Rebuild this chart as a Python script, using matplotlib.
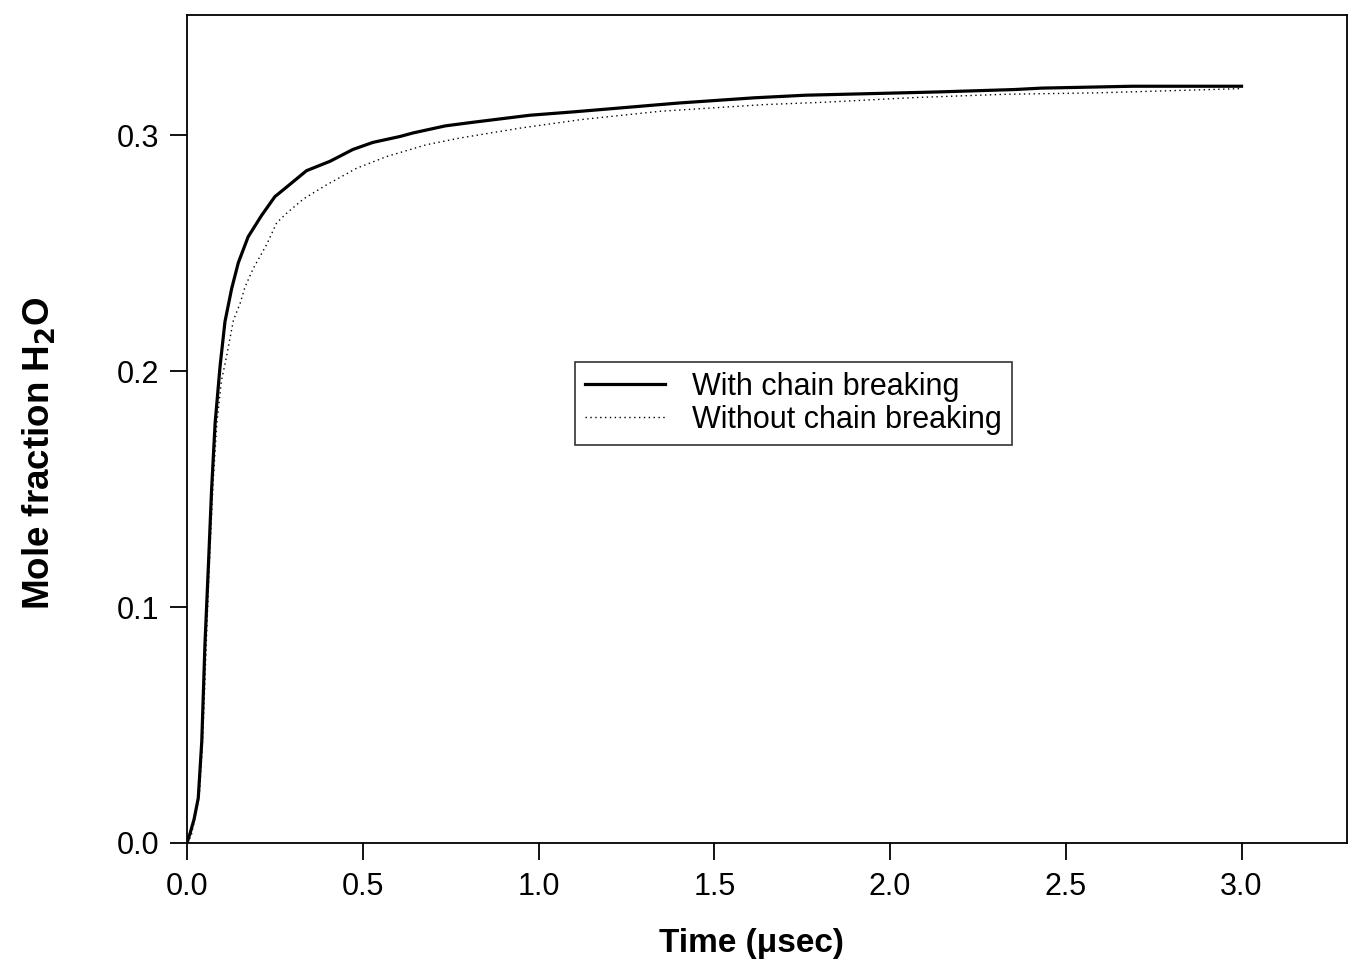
import matplotlib
matplotlib.use("Agg")
import matplotlib.pyplot as plt

plt.rcParams['font.family'] = ['Liberation Sans', 'DejaVu Sans']

# Data
t_with = [0, 0.0085, 0.02, 0.032, 0.042, 0.051, 0.061, 0.070, 0.080, 0.094, 0.108,
          0.127, 0.146, 0.174, 0.212, 0.250, 0.283, 0.340, 0.407, 0.472, 0.529, 0.606,
          0.643, 0.735, 0.812, 0.975, 1.105, 1.32, 1.40, 1.614, 1.76, 1.98, 2.14,
          2.354, 2.43, 2.69, 3.0]
v_with = [0, 0.004, 0.010, 0.019, 0.043, 0.084, 0.118, 0.150, 0.178, 0.202, 0.221,
          0.235, 0.246, 0.257, 0.266, 0.274, 0.278, 0.285, 0.289, 0.294, 0.297, 0.2995,
          0.301, 0.304, 0.3055, 0.3085, 0.310, 0.3127, 0.3137, 0.3159, 0.317, 0.3178, 0.3184,
          0.3194, 0.320, 0.3208, 0.3208]

t_without = [0, 0.012, 0.035, 0.045, 0.055, 0.064, 0.074, 0.085, 0.098, 0.113, 0.132,
             0.151, 0.165, 0.189, 0.227, 0.255, 0.283, 0.331, 0.397, 0.482, 0.568,
             0.681, 0.778, 0.95, 1.123, 1.347, 1.64, 1.81, 2.07, 2.33, 2.59, 3.0]
v_without = [0, 0.003, 0.02, 0.045, 0.085, 0.12, 0.152, 0.178, 0.196, 0.2066, 0.2216,
             0.2287, 0.2357, 0.2437, 0.2538, 0.2629, 0.2669, 0.273, 0.279, 0.286, 0.291,
             0.296, 0.2989, 0.3031, 0.3067, 0.3102, 0.313, 0.314, 0.316, 0.3174, 0.318, 0.3198]

x_ticks = [0.0, 0.5, 1.0, 1.5, 2.0, 2.5, 3.0]
y_ticks = [0.0, 0.1, 0.2, 0.3]
labels = ["With chain breaking", "Without chain breaking"]

fig = plt.figure(figsize=(13.52, 9.72), dpi=100)
ax = fig.add_axes([187/1352, 1 - 843/972, (1347-187)/1352, (843-15)/972])

ax.plot(t_with, v_with, color='black', lw=2.3, label=labels[0])
ax.plot(t_without, v_without, color='black', lw=1.0, linestyle=(0, (1, 2.5)), label=labels[1])

ax.set_xlim(0, 3.3)
ax.set_ylim(0, 0.351)
ax.set_xticks(x_ticks)
ax.set_xticklabels([f"{v:.1f}" for v in x_ticks])
ax.set_yticks(y_ticks)
ax.set_yticklabels([f"{v:.1f}" for v in y_ticks])

for s in ax.spines.values():
    s.set_linewidth(1.3)
ax.tick_params(direction='out', length=12, width=1.3, labelsize=22, colors='black')
ax.tick_params(axis='x', pad=9)
ax.tick_params(axis='y', pad=8)

ax.set_xlabel("Time (μsec)", fontsize=24, fontweight='bold')
ax.set_ylabel("Mole fraction H$_\\mathbf{2}$O", fontsize=26.5, fontweight='bold')
ax.xaxis.set_label_coords((751-187)/1160, -(928-843)/828)
ax.yaxis.set_label_coords(-(187-58)/1160, (843-453)/828)

leg = ax.legend(loc='upper left', bbox_to_anchor=((575-187)/1160, (843-362)/828),
                borderaxespad=0, fancybox=False, frameon=True, edgecolor='black',
                fontsize=22, handlelength=2.6, handletextpad=0.9, labelspacing=0.1,
                borderpad=0.33)
leg.get_frame().set_linewidth(1.2)

fig.savefig("out.png", dpi=100, facecolor='white')
